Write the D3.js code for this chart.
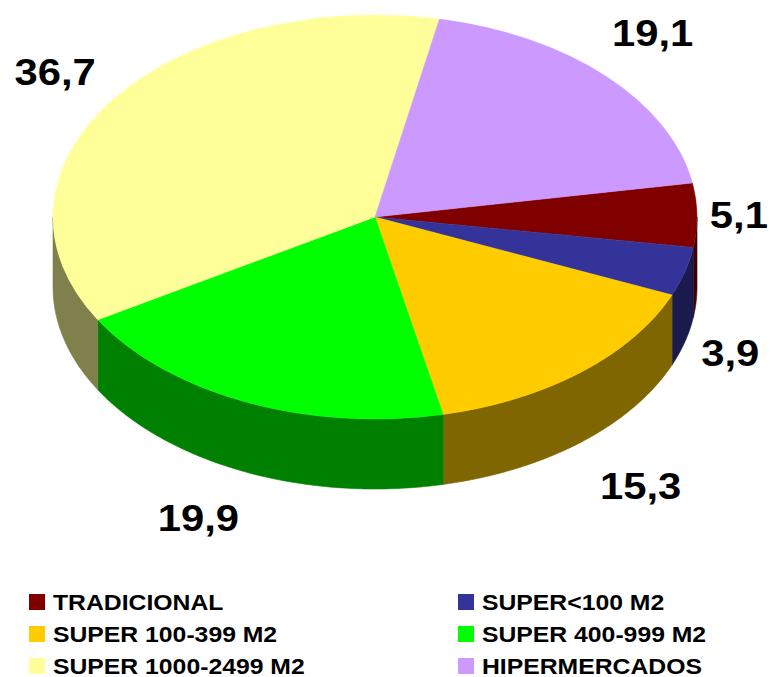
<!DOCTYPE html>
<html>
<head>
<meta charset="utf-8">
<script src="https://cdn.jsdelivr.net/npm/d3@7"></script>
<style>
  html, body { margin: 0; padding: 0; background: #fff; }
  svg { display: block; }
  text { font-family: "Liberation Sans", Arial, sans-serif; font-weight: bold; fill: #000; }
</style>
</head>
<body>
<svg id="chart" width="769" height="677"></svg>
<script>
// ---- data ----
const categories = ["TRADICIONAL", "SUPER<100 M2", "SUPER 100-399 M2", "SUPER 400-999 M2", "SUPER 1000-2499 M2", "HIPERMERCADOS"];
const values = [5.1, 3.9, 15.3, 19.9, 36.7, 19.1];
const valueLabels = ["5,1", "3,9", "15,3", "19,9", "36,7", "19,1"];
const topColors = ["#800000", "#333399", "#FFCC00", "#00FF00", "#FFFF99", "#CC99FF"];
const sideColors = ["#400000", "#1A1A4D", "#806600", "#008000", "#80804D", "#664D80"];

// ---- layout ----
const W = 769, H = 677;
const cx = 375, cy = 217, rx = 322, ry = 202, depth = 70;
const startDeg = -9.7; // parametric angle from 3 o'clock, clockwise
const labelK = [[1.13, 1.13], [1.146, 1.21], [1.29, 1.28], [1.37, 1.25], [1.22, 1.24], [1.2, 1.31]];

const svg = d3.select("#chart");
const toRad = d => d * Math.PI / 180;

// d3 angles: clockwise from 12 o'clock  => theta = t + 90deg
const pie = d3.pie().sort(null).value(d => d)
  .startAngle(toRad(startDeg + 90)).endAngle(toRad(startDeg + 90 + 360));
const arcsData = pie(values);

// helper: point on ellipse for parametric angle t (radians)
const ex = t => cx + rx * Math.cos(t);
const ey = t => cy + ry * Math.sin(t);

// ---- side walls (front half, sin(t) > 0) ----
const sideG = svg.append("g");
const line = d3.line();
arcsData.forEach((a, i) => {
  let t0 = a.startAngle - Math.PI / 2, t1 = a.endAngle - Math.PI / 2;
  [-2 * Math.PI, 0, 2 * Math.PI].forEach(shift => {
    const s0 = Math.max(t0 + shift, 0), s1 = Math.min(t1 + shift, Math.PI);
    if (s1 <= s0) return;
    const n = Math.max(8, Math.ceil((s1 - s0) / 0.01));
    const pts = [];
    for (let k = 0; k <= n; k++) { const t = s0 + (s1 - s0) * k / n; pts.push([ex(t), ey(t)]); }
    for (let k = n; k >= 0; k--) { const t = s0 + (s1 - s0) * k / n; pts.push([ex(t), ey(t) + depth]); }
    sideG.append("path")
      .attr("d", line(pts) + "Z")
      .attr("fill", sideColors[i])
      .attr("stroke", sideColors[i])
      .attr("stroke-width", 0.6);
  });
});

// ---- top face ----
const arc = d3.arc().innerRadius(0).outerRadius(rx);
const topG = svg.append("g")
  .attr("transform", `translate(${cx},${cy}) scale(1,${ry / rx})`);
topG.selectAll("path").data(arcsData).join("path")
  .attr("d", arc)
  .attr("fill", (d, i) => topColors[i])
  .attr("stroke", (d, i) => topColors[i])
  .attr("stroke-width", 0.6);

// ---- value labels ----
const labG = svg.append("g");
arcsData.forEach((a, i) => {
  const t = (a.startAngle + a.endAngle) / 2 - Math.PI / 2;
  const x = cx + rx * labelK[i][0] * Math.cos(t);
  let y = cy + ry * labelK[i][1] * Math.sin(t);
  if (Math.sin(t) > 0.05) y += depth;
  labG.append("text")
    .attr("transform", `translate(${x},${y + 13}) scale(1.13,1)`)
    .attr("text-anchor", "middle")
    .style("font-size", "37px")
    .text(valueLabels[i]);
});

// ---- legend ----
const legX = [29, 458], legY0 = 594, legDy = 32, sq = 16;
const legG = svg.append("g");
categories.forEach((c, i) => {
  const col = i % 2, row = Math.floor(i / 2);
  const gx = legX[col], gy = legY0 + row * legDy;
  legG.append("rect").attr("x", gx).attr("y", gy).attr("width", sq).attr("height", sq)
    .attr("fill", topColors[i]);
  legG.append("text")
    .attr("transform", `translate(${gx + 24},${gy + sq - 0.5}) scale(1.1,1)`)
    .style("font-size", "22.5px")
    .text(c);
});
</script>
</body>
</html>
